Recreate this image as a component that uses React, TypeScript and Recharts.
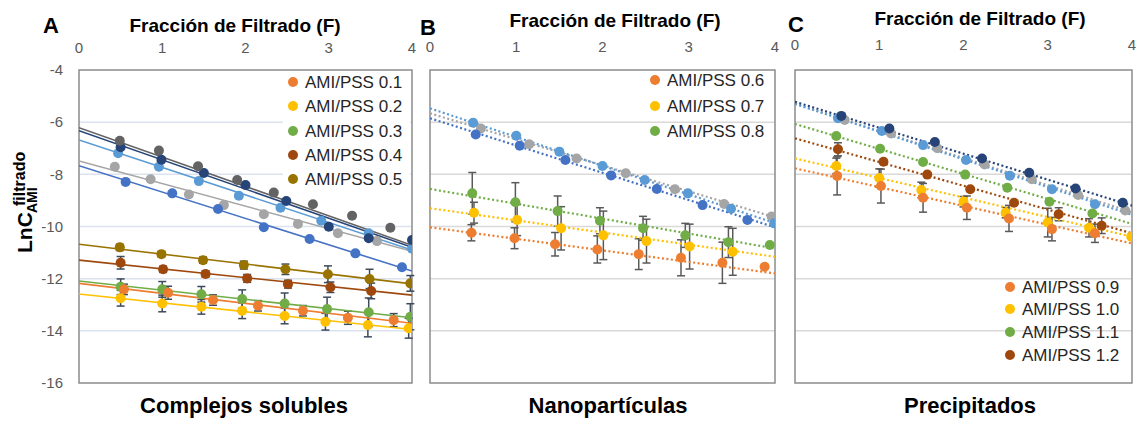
import React from "react";
import {
  ScatterChart,
  Scatter,
  XAxis,
  YAxis,
  CartesianGrid,
  ErrorBar,
  ReferenceArea,
} from "recharts";

// each point: [F, LnC, error]
// trend: value at F = 0 and at F = 4

// --- A: complejos solubles
const a01 = [[0.54, -12.41, 0.2], [1.07, -12.54, 0.25], [1.61, -12.82, 0.2], [2.15, -13.04, 0.2], [2.69, -13.23, 0.2], [3.23, -13.5, 0.25], [3.78, -13.59, 0.25]];
const a01Trend = [-12.18, -13.71];
const a02 = [[0.5, -12.75, 0.3], [1.0, -12.95, 0.32], [1.47, -13.08, 0.28], [1.96, -13.23, 0.3], [2.47, -13.43, 0.3], [2.96, -13.65, 0.32], [3.47, -13.78, 0.45], [3.96, -13.9, 0.38]];
const a02Trend = [-12.59, -13.95];
const a03 = [[0.5, -12.31, 0.3], [1.0, -12.41, 0.3], [1.47, -12.6, 0.3], [1.96, -12.78, 0.35], [2.47, -12.95, 0.4], [2.98, -13.16, 0.45], [3.48, -13.29, 0.55], [3.98, -13.46, 0.5]];
const a03Trend = [-12.09, -13.5];
const a04 = [[0.5, -11.39, 0.24], [1.01, -11.64, 0.12], [1.52, -11.82, 0.12], [2.02, -11.99, 0.15], [2.51, -12.21, 0.15], [3.02, -12.33, 0.2], [3.51, -12.47, 0.3]];
const a04Trend = [-11.29, -12.63];
const a05 = [[0.49, -10.8, 0.12], [0.99, -11.06, 0.1], [1.49, -11.29, 0.12], [1.98, -11.48, 0.15], [2.48, -11.64, 0.2], [2.99, -11.83, 0.32], [3.49, -12.01, 0.37], [3.98, -12.18, 0.3]];
const a05Trend = [-10.68, -12.2];
const aDark = [[0.49, -6.71], [0.96, -7.09], [1.43, -7.69], [1.9, -8.22], [2.34, -8.7], [2.81, -9.15], [3.28, -9.59], [3.74, -10.05]];
const aDarkTrend = [-6.21, -10.72];
const aNavy = [[0.5, -6.96], [0.99, -7.44], [1.5, -7.95], [2.0, -8.41], [2.49, -9.02], [3.0, -10.01], [3.48, -10.45], [4.0, -10.52]];
const aNavyTrend = [-6.33, -10.8];
const aSky = [[0.47, -7.19], [0.96, -7.71], [1.44, -8.26], [1.92, -8.82], [2.42, -9.28], [2.91, -9.78], [3.48, -10.26], [4.0, -10.85]];
const aSkyTrend = [-6.68, -10.9];
const aGrey = [[0.43, -7.71], [0.86, -8.19], [1.32, -8.77], [1.74, -9.18], [2.22, -9.53], [2.63, -9.9], [3.11, -10.26], [3.58, -10.56]];
const aGreyTrend = [-7.49, -10.95];
const aBlue = [[0.56, -8.29], [1.12, -8.73], [1.67, -9.33], [2.22, -10.03], [2.77, -10.48], [3.32, -11.03], [3.88, -11.56]];
const aBlueTrend = [-7.67, -11.71];

// --- B: nanopartículas
const b06 = [[0.48, -10.24, 0.31], [0.98, -10.45, 0.4], [1.45, -10.68, 0.45], [1.94, -10.88, 0.52], [2.42, -11.06, 0.59], [2.91, -11.2, 0.69], [3.39, -11.39, 0.79], [3.88, -11.54]];
const b06Trend = [-10.03, -11.8];
const b07 = [[0.51, -9.47, 0.4], [1.01, -9.75, 0.6], [1.52, -10.07, 0.83], [2.01, -10.34, 0.93], [2.51, -10.56, 0.84], [3.01, -10.77, 0.86], [3.51, -10.97, 0.9]];
const b07Trend = [-9.3, -11.16];
const b08 = [[0.49, -8.73, 0.8], [0.99, -9.07, 0.75], [1.48, -9.41, 0.58], [1.97, -9.78, 0.5], [2.47, -10.07, 0.46], [2.96, -10.34, 0.46], [3.46, -10.6, 0.59], [3.94, -10.71]];
const b08Trend = [-8.56, -10.84];
const bSky = [[0.5, -6.02], [1.0, -6.52], [1.5, -7.13], [2.0, -7.68], [2.49, -8.22], [2.99, -8.73], [3.49, -9.32], [3.99, -9.88]];
const bSkyTrend = [-5.47, -9.87];
const bGrey = [[0.59, -6.24], [1.15, -6.85], [1.7, -7.39], [2.27, -7.96], [2.84, -8.57], [3.41, -9.14], [3.96, -9.62]];
const bGreyTrend = [-5.66, -9.65];
const bBlue = [[0.53, -6.47], [1.04, -6.9], [1.57, -7.45], [2.1, -8.04], [2.63, -8.56], [3.16, -9.18], [3.68, -9.75]];
const bBlueTrend = [-5.85, -10.03];

// --- C: precipitados
const c09 = [[0.5, -8.06, 0.73], [1.02, -8.45, 0.65], [1.52, -8.9, 0.55], [2.04, -9.28, 0.45], [2.54, -9.69, 0.5], [3.05, -10.1, 0.45], [3.56, -10.26, 0.35]];
const c09Trend = [-7.77, -10.65];
const c10 = [[0.49, -7.68, 0.3], [1.0, -8.14, 0.35], [1.5, -8.6, 0.3], [2.0, -9.05, 0.2], [2.5, -9.47, 0.2], [3.0, -9.85, 0.55], [3.49, -10.05, 0.35], [3.99, -10.39]];
const c10Trend = [-7.39, -10.39];
const c11 = [[0.49, -6.53], [1.01, -7.02], [1.52, -7.53], [2.02, -8.01], [2.52, -8.51], [3.02, -9.05], [3.53, -9.5]];
const c11Trend = [-6.07, -9.9];
const c12 = [[0.51, -7.04, 0.25], [1.05, -7.52], [1.57, -8.01], [2.08, -8.57], [2.6, -9.09], [3.13, -9.53, 0.25], [3.64, -9.97, 0.3]];
const c12Trend = [-6.62, -10.26];
const cNavy = [[0.55, -5.76], [1.12, -6.24], [1.66, -6.76], [2.22, -7.39], [2.78, -7.94], [3.33, -8.54], [3.89, -9.09]];
const cNavyTrend = [-5.22, -9.2];
const cSky = [[0.51, -5.85], [1.03, -6.34], [1.52, -6.88], [2.03, -7.45], [2.55, -8.05], [3.05, -8.57], [3.56, -9.15]];
const cSkyTrend = [-5.3, -9.55];
const cGrey = [[0.59, -5.92], [1.14, -6.43], [1.69, -7.0], [2.25, -7.62], [2.81, -8.19], [3.36, -8.79], [3.92, -9.39]];
const cGreyTrend = [-5.3, -9.45];

const xTicks = [0, 1, 2, 3, 4];
const yTicks = [-16, -14, -12, -10, -8, -6, -4];
const gridValues = [-14, -12, -10, -8, -6];

const legendA = ["AMI/PSS 0.1", "AMI/PSS 0.2", "AMI/PSS 0.3", "AMI/PSS 0.4", "AMI/PSS 0.5"];
const legendB = ["AMI/PSS 0.6", "AMI/PSS 0.7", "AMI/PSS 0.8"];
const legendC = ["AMI/PSS 0.9", "AMI/PSS 1.0", "AMI/PSS 1.1", "AMI/PSS 1.2"];

const COL = {
  orange: "#ED7D31",
  gold: "#FFC000",
  green: "#70AD47",
  brown: "#9E480E",
  olive: "#997300",
  blue: "#4472C4",
  sky: "#5B9BD5",
  grey: "#A5A5A5",
  navy: "#264478",
  dark: "#636363",
};

interface SeriesDef {
  id: string;
  pts: number[][];
  trend: number[];
  color: string;
}

const seriesA: SeriesDef[] = [
  { id: "aGrey", pts: aGrey, trend: aGreyTrend, color: COL.grey },
  { id: "aBlue", pts: aBlue, trend: aBlueTrend, color: COL.blue },
  { id: "aSky", pts: aSky, trend: aSkyTrend, color: COL.sky },
  { id: "aNavy", pts: aNavy, trend: aNavyTrend, color: COL.navy },
  { id: "aDark", pts: aDark, trend: aDarkTrend, color: COL.dark },
  { id: "a05", pts: a05, trend: a05Trend, color: COL.olive },
  { id: "a04", pts: a04, trend: a04Trend, color: COL.brown },
  { id: "a03", pts: a03, trend: a03Trend, color: COL.green },
  { id: "a01", pts: a01, trend: a01Trend, color: COL.orange },
  { id: "a02", pts: a02, trend: a02Trend, color: COL.gold },
];

const seriesB: SeriesDef[] = [
  { id: "bGrey", pts: bGrey, trend: bGreyTrend, color: COL.grey },
  { id: "bSky", pts: bSky, trend: bSkyTrend, color: COL.sky },
  { id: "bBlue", pts: bBlue, trend: bBlueTrend, color: COL.blue },
  { id: "b08", pts: b08, trend: b08Trend, color: COL.green },
  { id: "b07", pts: b07, trend: b07Trend, color: COL.gold },
  { id: "b06", pts: b06, trend: b06Trend, color: COL.orange },
];

const seriesC: SeriesDef[] = [
  { id: "cGrey", pts: cGrey, trend: cGreyTrend, color: COL.grey },
  { id: "cSky", pts: cSky, trend: cSkyTrend, color: COL.sky },
  { id: "cNavy", pts: cNavy, trend: cNavyTrend, color: COL.navy },
  { id: "c11", pts: c11, trend: c11Trend, color: COL.green },
  { id: "c12", pts: c12, trend: c12Trend, color: COL.brown },
  { id: "c10", pts: c10, trend: c10Trend, color: COL.gold },
  { id: "c09", pts: c09, trend: c09Trend, color: COL.orange },
];

const FONT = '"Liberation Sans", Arial, sans-serif';
const TICK = { fill: "#595959", fontSize: 15 };

const toRows = (pts: number[][]) =>
  pts.map((p) => ({ x: p[0], y: p[1], e: p.length > 2 ? p[2] : undefined }));
const trendRows = (t: number[]) => [
  { x: 0, y: t[0] },
  { x: 4, y: t[1] },
];

interface PanelProps {
  left: number;
  width: number;
  mLeft: number;
  mRight: number;
  showY?: boolean;
  series: SeriesDef[];
  grid: string;
  dotted?: boolean;
  errColor: string;
  tickGap: number;
}

function Panel({ left, width, mLeft, mRight, showY, series, grid, dotted, errColor, tickGap }: PanelProps) {
  return (
    <div style={{ position: "absolute", left, top: 0 }}>
      <ScatterChart
        width={width}
        height={421}
        margin={{ top: 40, right: mRight, bottom: 38, left: mLeft }}
      >
        <CartesianGrid
          vertical={false}
          stroke={grid}
          strokeWidth={1.5}
          horizontalValues={gridValues}
        />
        <XAxis
          type="number"
          dataKey="x"
          orientation="top"
          domain={[0, 4]}
          ticks={xTicks}
          height={30}
          axisLine={false}
          tickLine={false}
          tickSize={0}
          tickMargin={tickGap}
          tick={TICK}
          allowDataOverflow
        />
        <YAxis
          type="number"
          dataKey="y"
          domain={[-16, -4]}
          ticks={yTicks}
          width={showY ? 60 : 0}
          hide={!showY}
          axisLine={false}
          tickLine={false}
          tickSize={0}
          tickMargin={16}
          tick={TICK}
          allowDataOverflow
        />
        <ReferenceArea
          x1={0}
          x2={4}
          y1={-16}
          y2={-4}
          fill="none"
          fillOpacity={0}
          stroke="#8c8c8c"
          strokeWidth={1.5}
        />
        {series.map((s) => (
          <Scatter
            key={"t" + s.id}
            data={trendRows(s.trend)}
            fill={s.color}
            line={{
              stroke: s.color,
              strokeWidth: dotted ? 2.2 : 1.6,
              strokeDasharray: dotted ? "2 2.5" : undefined,
            }}
            shape={() => <g />}
            legendType="none"
            isAnimationActive={false}
          />
        ))}
        {series.map((s) => (
          <Scatter
            key={s.id}
            data={toRows(s.pts)}
            fill={s.color}
            shape={(p: any) => <circle cx={p.cx} cy={p.cy} r={5} fill={s.color} />}
            legendType="none"
            isAnimationActive={false}
          >
            {s.pts.some((p) => p.length > 2) && (
              <ErrorBar dataKey="e" direction="y" width={4} stroke={errColor} strokeWidth={1.5} />
            )}
          </Scatter>
        ))}
      </ScatterChart>
    </div>
  );
}

function LegendBlock({ x, ys, labels, colors }: { x: number; ys: number[]; labels: string[]; colors: string[] }) {
  return (
    <g>
      {labels.map((l, i) => (
        <g key={l}>
          <circle cx={x} cy={ys[i]} r={5} fill={colors[i]} />
          <text x={x + 12} y={ys[i] + 6} fontSize={17} fill="#262626">
            {l}
          </text>
        </g>
      ))}
    </g>
  );
}

export default function App() {
  return (
    <div
      style={{
        position: "absolute",
        left: 0,
        top: 0,
        width: 1136,
        height: 421,
        background: "#fff",
        fontFamily: FONT,
        overflow: "hidden",
      }}
    >
      <Panel left={0} width={420} mLeft={19} mRight={8} showY series={seriesA} grid="#dbe3ee" errColor="#3c4a5c" tickGap={17} />
      <Panel left={420} width={360} mLeft={10} mRight={5} series={seriesB} grid="#d9d9d9" dotted errColor="#595959" tickGap={18} />
      <Panel left={785} width={351} mLeft={10} mRight={4} series={seriesC} grid="#d9d9d9" dotted errColor="#595959" tickGap={20} />

      <svg
        width={1136}
        height={421}
        style={{ position: "absolute", left: 0, top: 0, pointerEvents: "none", fontFamily: FONT }}
      >
        <rect x={283} y={72} width={127} height={116} fill="#fff" />
        <LegendBlock x={293} ys={[82, 106, 131, 155, 179]} labels={legendA} colors={[COL.orange, COL.gold, COL.green, COL.brown, COL.olive]} />
        <LegendBlock x={655} ys={[80, 106, 131]} labels={legendB} colors={[COL.orange, COL.gold, COL.green]} />
        <LegendBlock x={1010} ys={[287, 309, 332, 355]} labels={legendC} colors={[COL.orange, COL.gold, COL.green, COL.brown]} />

        <g fontWeight="bold" fill="#000">
          <text x={43} y={33} fontSize={22}>A</text>
          <text x={420} y={35} fontSize={22}>B</text>
          <text x={788} y={32} fontSize={22}>C</text>

          <text x={235} y={32} fontSize={19} textAnchor="middle">Fracción de Filtrado (F)</text>
          <text x={615} y={27} fontSize={19} textAnchor="middle">Fracción de Filtrado (F)</text>
          <text x={980} y={25} fontSize={19} textAnchor="middle">Fracción de Filtrado (F)</text>

          <text x={244} y={413} fontSize={22} textAnchor="middle">Complejos solubles</text>
          <text x={608} y={413} fontSize={22} textAnchor="middle">Nanopartículas</text>
          <text x={970} y={413} fontSize={22} textAnchor="middle">Precipitados</text>

          <g transform="rotate(-90)">
            <text x={-253} y={32} fontSize={21}>LnC</text>
            <text x={-213} y={37} fontSize={14}>AMI</text>
            <text x={-206} y={25} fontSize={16}>filtrado</text>
          </g>
        </g>
      </svg>
    </div>
  );
}
